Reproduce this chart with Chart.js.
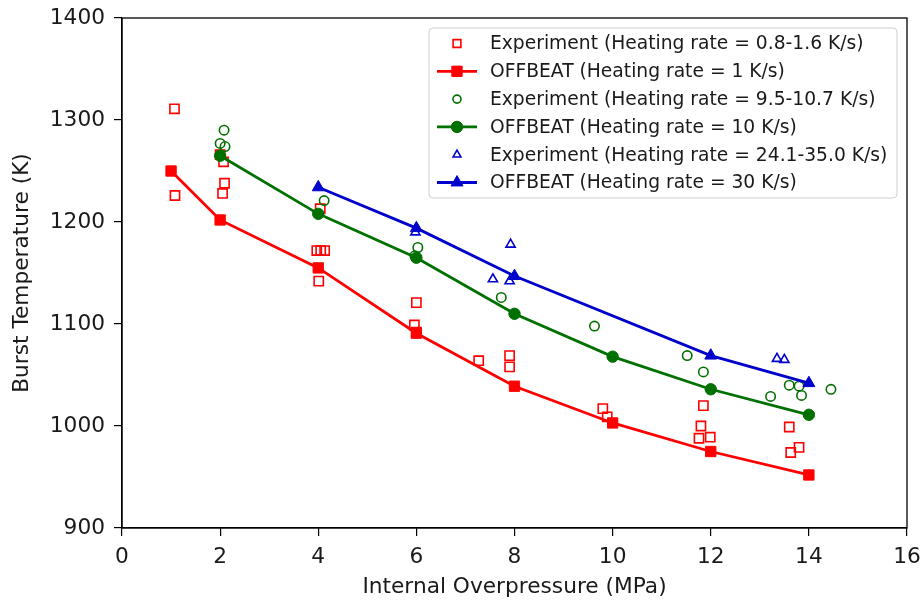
<!DOCTYPE html>
<html>
<head>
<meta charset="utf-8">
<script src="https://cdn.jsdelivr.net/npm/chart.js@4.4.1/dist/chart.umd.min.js"></script>
<style>
  html, body { margin: 0; padding: 0; background: #fff; }
  canvas { display: block; }
</style>
</head>
<body>
<canvas id="burstChart" width="922" height="604"></canvas>
<script>
// Internal overpressure (MPa) and burst temperature (K)
const expPressure1 = [1.07, 1.08, 2.0, 2.07, 2.09, 2.05, 4.04, 3.97, 4.05, 4.13, 4.01, 6.0, 5.96, 6.0, 7.27, 7.9, 7.9, 9.8, 9.89, 11.85, 11.8, 11.76, 11.99, 13.6, 13.8, 13.63];
const expTemp1     = [1311, 1226, 1266, 1259, 1238, 1228, 1213, 1172, 1172, 1172, 1142, 1121, 1099, 1092, 1064, 1069, 1058, 1017, 1009, 1020, 1000, 988, 989, 999, 979, 974];

const modelPressure1 = [1, 2, 4, 6, 8, 10, 12, 14];
const modelTemp1     = [1250, 1202, 1155, 1091, 1039, 1003, 975, 952];

const expPressure10 = [2.08, 2.0, 2.1, 4.12, 6.03, 5.97, 7.73, 9.63, 11.52, 11.85, 13.22, 13.6, 13.8, 13.85, 14.45];
const expTemp10     = [1290, 1277, 1274, 1221, 1175, 1167, 1126, 1098, 1069, 1053, 1029, 1040, 1039, 1030, 1036];

const modelPressure10 = [2, 4, 6, 8, 10, 12, 14];
const modelTemp10     = [1265, 1208, 1165, 1110, 1068, 1036, 1011];

const expPressure30 = [5.98, 7.92, 7.56, 7.9, 13.35, 13.5];
const expTemp30     = [1190, 1178, 1144, 1142, 1066, 1065];

const modelPressure30 = [4, 6, 8, 12, 14];
const modelTemp30     = [1234, 1194, 1147, 1069, 1042];

const xTicks = [0, 2, 4, 6, 8, 10, 12, 14, 16];
const yTicks = [900, 1000, 1100, 1200, 1300, 1400];

const RED = '#ff0000';
const GREEN = '#007000';
const BLUE = '#0000cc';
const FONT = "'DejaVu Sans', sans-serif";

function toPoints(xs, ys) {
    return xs.map((x, i) => ({ x: x, y: ys[i] }));
}

function expSet(label, xs, ys, color, style, radius) {
    return {
        label: label,
        data: toPoints(xs, ys),
        showLine: false,
        pointStyle: style,
        pointRadius: radius,
        pointBackgroundColor: 'rgba(0,0,0,0)',
        pointBorderColor: color,
        pointBorderWidth: 1.6,
        borderColor: color
    };
}

function modelSet(label, xs, ys, color, style, radius) {
    return {
        label: label,
        data: toPoints(xs, ys),
        showLine: true,
        borderColor: color,
        borderWidth: 2.8,
        pointStyle: style,
        pointRadius: radius,
        pointBackgroundColor: color,
        pointBorderColor: color,
        pointBorderWidth: 1
    };
}

const datasets = [
    expSet('Experiment (Heating rate = 0.8-1.6 K/s)', expPressure1, expTemp1, RED, 'rect', 6.5),
    modelSet('OFFBEAT (Heating rate = 1 K/s)', modelPressure1, modelTemp1, RED, 'rect', 7.3),
    expSet('Experiment (Heating rate = 9.5-10.7 K/s)', expPressure10, expTemp10, GREEN, 'circle', 4.7),
    modelSet('OFFBEAT (Heating rate = 10 K/s)', modelPressure10, modelTemp10, GREEN, 'circle', 5.7),
    expSet('Experiment (Heating rate = 24.1-35.0 K/s)', expPressure30, expTemp30, BLUE, 'triangle', 5.3),
    modelSet('OFFBEAT (Heating rate = 30 K/s)', modelPressure30, modelTemp30, BLUE, 'triangle', 6.9)
];
// matplotlib draws later series on top
datasets.forEach((d, i) => { d.order = datasets.length - i; });

function drawMarker(ctx, style, x, y, r, fill, color) {
    ctx.save();
    ctx.beginPath();
    if (style === 'rect') {
        const s = r * Math.SQRT1_2;
        ctx.rect(x - s, y - s, 2 * s, 2 * s);
    } else if (style === 'circle') {
        ctx.arc(x, y, r, 0, Math.PI * 2);
    } else {
        const w = r * Math.sqrt(3) / 2;
        ctx.moveTo(x, y - r);
        ctx.lineTo(x + w, y + r / 2);
        ctx.lineTo(x - w, y + r / 2);
        ctx.closePath();
    }
    if (fill) {
        ctx.fillStyle = color;
        ctx.fill();
        ctx.lineWidth = 1;
    } else {
        ctx.lineWidth = 1.6;
    }
    ctx.strokeStyle = color;
    ctx.stroke();
    ctx.restore();
}

// frame around the plot and the matplotlib-style legend box
const framePlugin = {
    id: 'framePlugin',
    afterDraw(chart) {
        const ctx = chart.ctx;
        const a = chart.chartArea;
        ctx.save();
        ctx.strokeStyle = '#000';
        ctx.lineWidth = 1.3;
        ctx.strokeRect(a.left, a.top, a.right - a.left, a.bottom - a.top);

        // legend
        const bx = 429, by = 28, bw = 468, bh = 170, rad = 4;
        ctx.beginPath();
        ctx.moveTo(bx + rad, by);
        ctx.arcTo(bx + bw, by, bx + bw, by + bh, rad);
        ctx.arcTo(bx + bw, by + bh, bx, by + bh, rad);
        ctx.arcTo(bx, by + bh, bx, by, rad);
        ctx.arcTo(bx, by, bx + bw, by, rad);
        ctx.closePath();
        ctx.fillStyle = 'rgba(255,255,255,0.85)';
        ctx.fill();
        ctx.strokeStyle = '#d0d0d0';
        ctx.lineWidth = 1;
        ctx.stroke();

        ctx.font = '18.7px ' + FONT;
        ctx.textBaseline = 'middle';
        ctx.textAlign = 'left';
        chart.data.datasets.forEach((d, i) => {
            const y = 43.5 + i * 27.8;
            const color = d.pointBorderColor;
            if (d.showLine) {
                ctx.beginPath();
                ctx.moveTo(437, y);
                ctx.lineTo(477, y);
                ctx.strokeStyle = color;
                ctx.lineWidth = 2.8;
                ctx.stroke();
                drawMarker(ctx, d.pointStyle, 457, y, d.pointRadius, true, color);
            } else {
                drawMarker(ctx, d.pointStyle, 457, y, d.pointRadius * 0.85, false, color);
            }
            ctx.fillStyle = '#1a1a1a';
            ctx.fillText(d.label, 490, y + 1);
        });
        ctx.restore();
    }
};

const chart = new Chart(document.getElementById('burstChart'), {
    type: 'scatter',
    data: { datasets: datasets },
    options: {
        responsive: false,
        animation: false,
        layout: { padding: { left: 0, right: 15, top: 18, bottom: 0 } },
        plugins: {
            legend: { display: false },
            tooltip: { enabled: false }
        },
        scales: {
            x: {
                type: 'linear',
                min: 0,
                max: 16,
                afterFit: (s) => { s.height = 76; s.paddingLeft = 0; s.paddingRight = 0; },
                afterBuildTicks: (s) => { s.ticks = xTicks.map(v => ({ value: v })); },
                grid: { display: true, drawOnChartArea: false, drawTicks: true, tickLength: 8, color: '#000', lineWidth: 1.2 },
                border: { display: true, color: '#000', width: 1.3 },
                ticks: { color: '#1a1a1a', font: { family: FONT, size: 21.7 }, padding: 8, callback: (v) => String(v) },
                title: { display: true, text: 'Internal Overpressure (MPa)', color: '#1a1a1a', font: { family: FONT, size: 21.7 }, padding: { top: 0, bottom: 4 } }
            },
            y: {
                type: 'linear',
                min: 900,
                max: 1400,
                afterFit: (s) => { s.width = 122; s.paddingTop = 0; s.paddingBottom = 0; },
                afterBuildTicks: (s) => { s.ticks = yTicks.map(v => ({ value: v })); },
                grid: { display: true, drawOnChartArea: false, drawTicks: true, tickLength: 8, color: '#000', lineWidth: 1.2 },
                border: { display: true, color: '#000', width: 1.3 },
                ticks: { color: '#1a1a1a', font: { family: FONT, size: 21.7 }, padding: 9, callback: (v) => String(v) },
                title: { display: true, text: 'Burst Temperature (K)', color: '#1a1a1a', font: { family: FONT, size: 21.7 }, padding: { top: 9.5, bottom: 0 } }
            }
        }
    },
    plugins: [framePlugin]
});
</script>
</body>
</html>
